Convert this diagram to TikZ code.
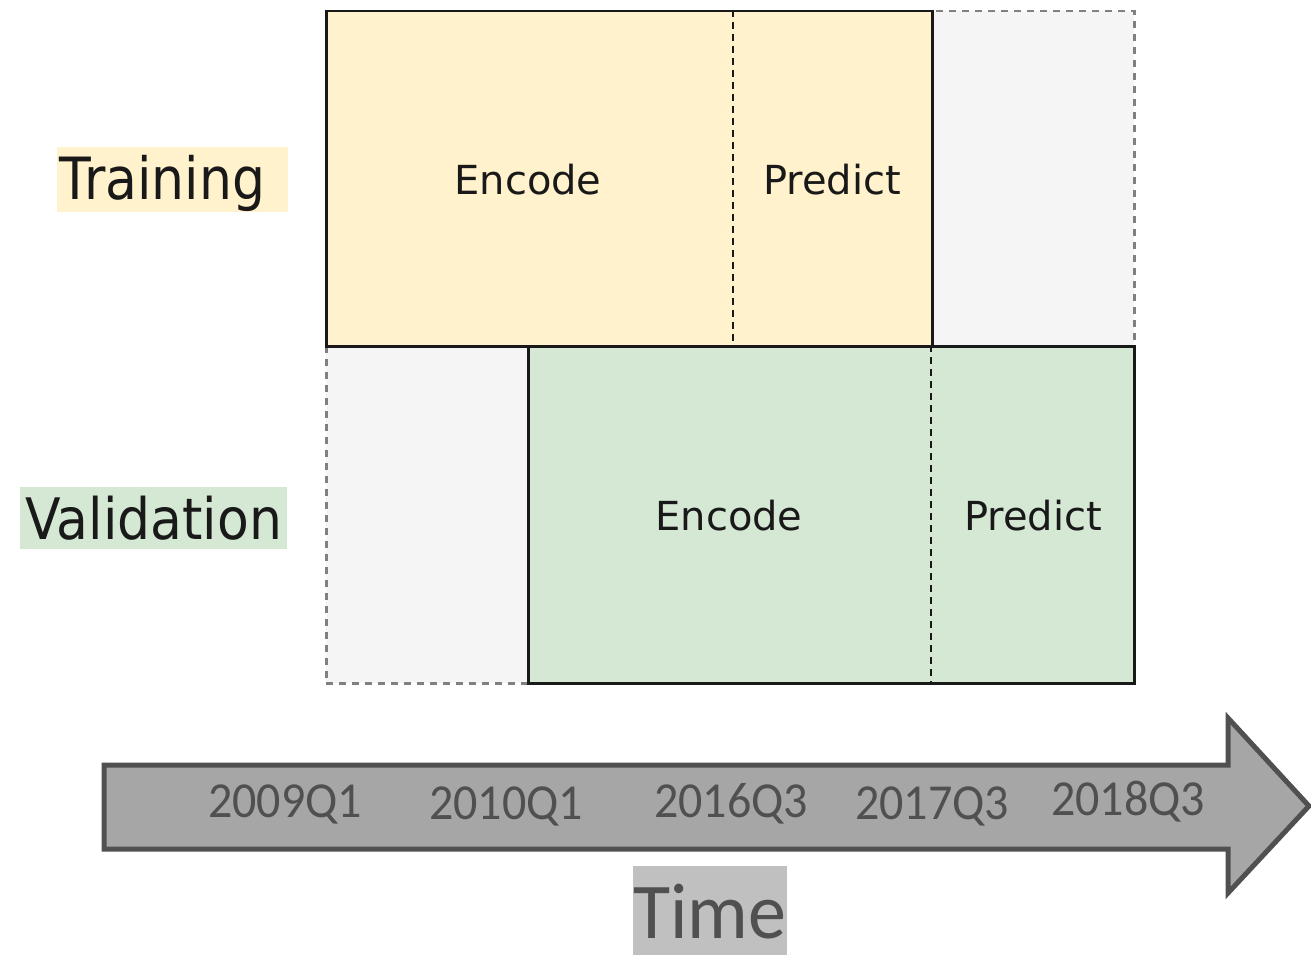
\documentclass[tikz,border=0pt]{standalone}
\usepackage{fontspec}
\setmainfont{DejaVu Sans}
\newfontfamily\calib{Carlito}
\definecolor{trainfill}{HTML}{FFF2CC}
\definecolor{valfill}{HTML}{D5E8D4}
\definecolor{greyfill}{HTML}{F5F5F5}
\definecolor{greyline}{HTML}{808080}
\definecolor{arrowfill}{HTML}{A6A6A6}
\definecolor{arrowline}{HTML}{505050}
\definecolor{timebg}{HTML}{C0C0C0}
\tikzset{
  solidbox/.style={draw=black!90, line width=2.5pt, anchor=north west, inner sep=0pt},
  ghostbox/.style={draw=greyline, fill=greyfill, line width=2.5pt, dash pattern=on 7pt off 6pt, anchor=north west, inner sep=0pt},
  divider/.style={black!90, line width=2.5pt, dash pattern=on 7pt off 5pt},
  boxtext/.style={font=\fontsize{40}{44}\selectfont, text=black!90, inner sep=0pt},
  rowlabel/.style={font=\fontsize{52}{56}\selectfont, text=black!90, inner sep=0pt},
  labelbg/.style={inner sep=0pt, draw=none},
  yeartext/.style={font=\calib\fontsize{48}{52}\selectfont, text=arrowline, inner sep=0pt},
}
\begin{document}
\begin{tikzpicture}[x=1pt,y=-1pt]
\useasboundingbox (0,0) rectangle (1311,955);
% ghost boxes
\node[ghostbox, minimum width=202pt, minimum height=335pt] (ghosttop) at (931,10) {};
\node[ghostbox, minimum width=202pt, minimum height=337pt] (ghostbot) at (325,345) {};
% training and validation boxes
\node[solidbox, fill=trainfill, minimum width=606pt, minimum height=335pt] (train) at (325,10) {};
\node[solidbox, fill=valfill, minimum width=606pt, minimum height=337pt] (val) at (527,345) {};
% dividers
\coordinate (td1) at (733,10); \coordinate (td2) at (733,345);
\coordinate (vd1) at (931,345); \coordinate (vd2) at (931,682);
\draw[divider] (td1) -- (td2);
\draw[divider] (vd1) -- (vd2);
% box texts
\node[boxtext] (tenc) at (528,180) {Encode};
\node[boxtext] (tpre) at (832,180) {Predict};
\node[boxtext] (venc) at (729,516) {Encode};
\node[boxtext] (vpre) at (1033,516) {Predict};
% row labels
\node[labelbg, fill=trainfill, minimum width=231pt, minimum height=65pt, anchor=north west] (trainbg) at (57,147) {};
\node[rowlabel] (trainlbl) at (162.5,183) {\scalebox{1}[1.12]{Training}};
\node[labelbg, fill=valfill, minimum width=267pt, minimum height=62pt, anchor=north west] (valbg) at (20,487) {};
\node[rowlabel] (vallbl) at (153.5,518) {\scalebox{1}[1.1]{Validation}};
% time arrow
\coordinate (a1) at (104,765);
\coordinate (a2) at (1228,765);
\coordinate (a3) at (1228,718);
\coordinate (a4) at (1309,806);
\coordinate (a5) at (1228,893);
\coordinate (a6) at (1228,849);
\coordinate (a7) at (104,849);
\draw[fill=arrowfill, draw=arrowline, line width=5pt, line join=miter] (a1) -- (a2) -- (a3) -- (a4) -- (a5) -- (a6) -- (a7) -- cycle;
\node[yeartext] (y1) at (285,804) {\scalebox{1}[1.05]{2009Q1}};
\node[yeartext] (y2) at (506,806) {\scalebox{1}[1.05]{2010Q1}};
\node[yeartext] (y3) at (731,804) {\scalebox{1}[1.05]{2016Q3}};
\node[yeartext] (y4) at (932,806) {\scalebox{1}[1.05]{2017Q3}};
\node[yeartext] (y5) at (1128,802) {\scalebox{1}[1.05]{2018Q3}};
% Time label
\node[labelbg, fill=timebg, minimum width=154pt, minimum height=89pt, anchor=north west] (timebg) at (633,866) {};
\node[font=\calib\fontsize{76}{80}\selectfont, text=arrowline, inner sep=0pt] (timelbl) at (710,912) {\scalebox{1}[1.04]{Time}};
\end{tikzpicture}
\end{document}
